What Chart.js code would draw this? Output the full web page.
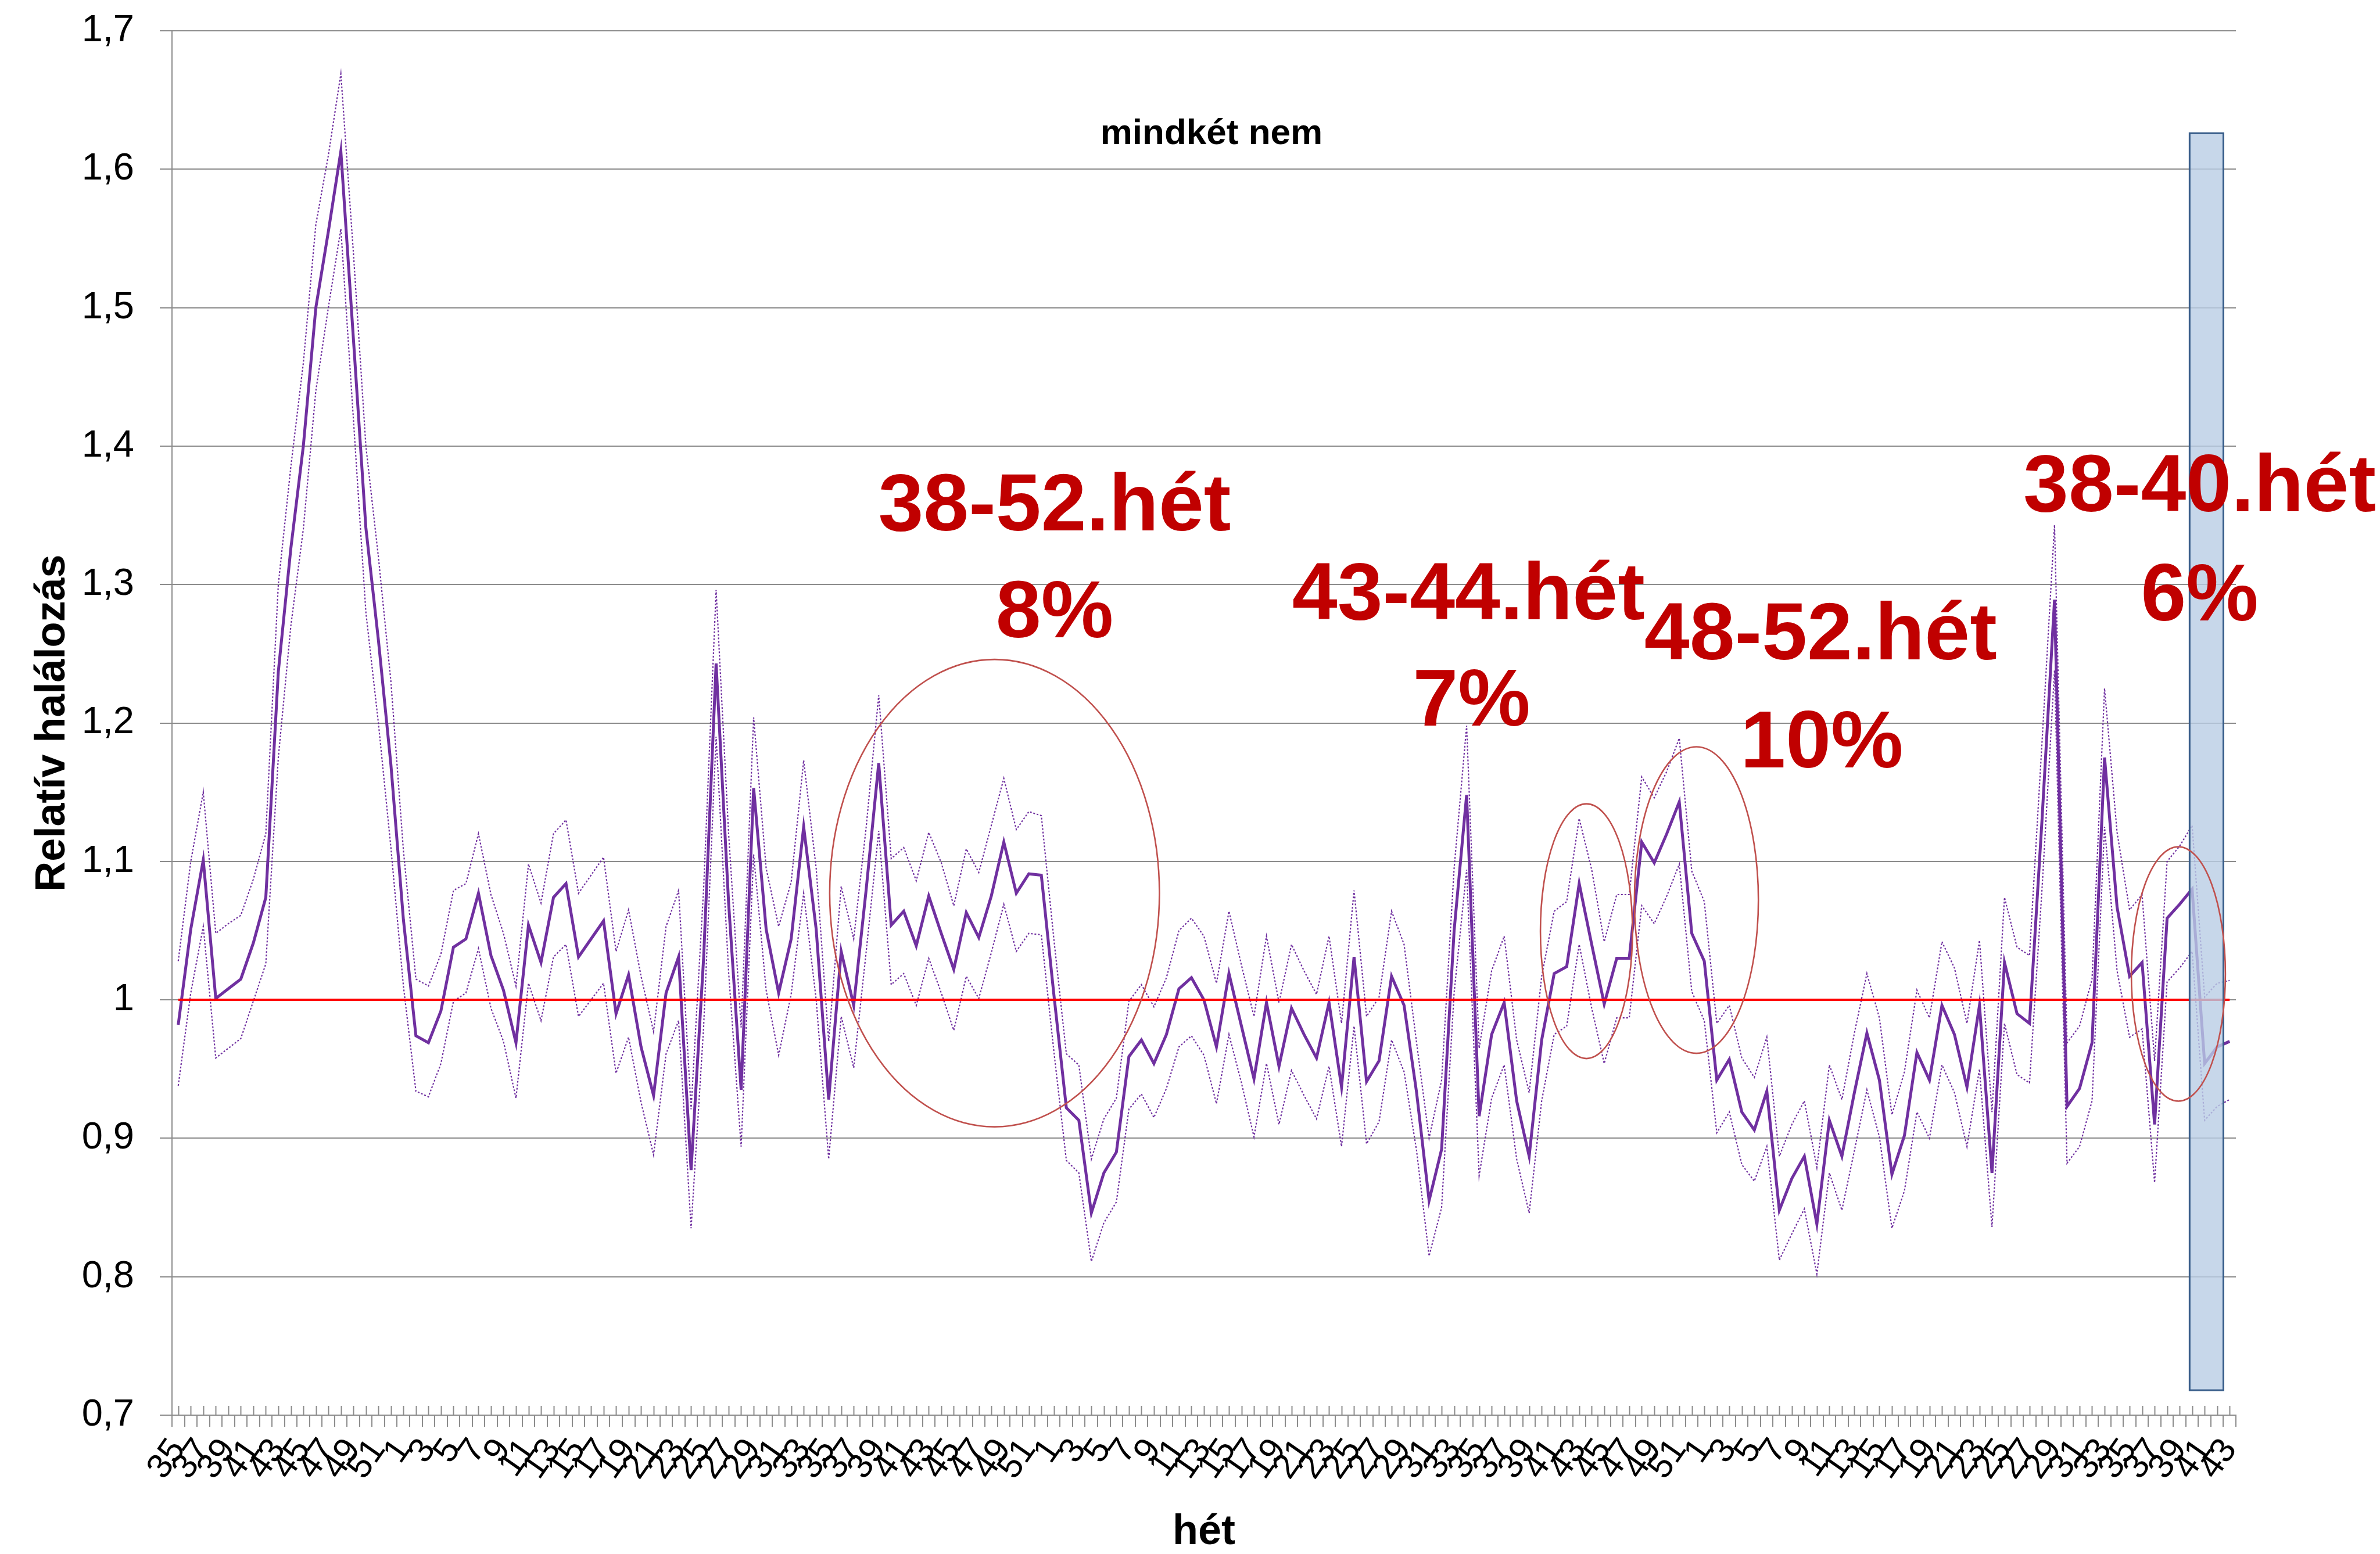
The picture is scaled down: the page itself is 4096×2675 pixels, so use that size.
<!DOCTYPE html>
<html>
<head>
<meta charset="utf-8">
<script src="https://cdn.jsdelivr.net/npm/chart.js@4.4.1/dist/chart.umd.min.js"></script>
<style>
  html, body { margin: 0; padding: 0; background: #fff; }
  #wrap { width: 4096px; height: 2675px; position: relative; }
</style>
</head>
<body>
<div id="wrap"><canvas id="chart"></canvas></div>
<script>
// week numbers on the category axis (35. hét -> 43. hét, three year changes)
const weekLabels = [
  35,36,37,38,39,40,41,42,43,44,45,46,47,48,49,50,51,52,
  1,2,3,4,5,6,7,8,9,10,11,12,13,14,15,16,17,18,19,20,21,22,23,24,25,26,
  27,28,29,30,31,32,33,34,35,36,37,38,39,40,41,42,43,44,45,46,47,48,49,50,51,52,
  1,2,3,4,5,6,7,8,9,10,11,12,13,14,15,16,17,18,19,20,21,22,23,24,25,26,
  27,28,29,30,31,32,33,34,35,36,37,38,39,40,41,42,43,44,45,46,47,48,49,50,51,52,
  1,2,3,4,5,6,7,8,9,10,11,12,13,14,15,16,17,18,19,20,21,22,
  23,24,25,26,27,28,29,30,31,32,33,34,35,36,37,38,39,40,41,42,43
];

// relative mortality (main series)
const relMortality = [
  0.982,1.051,1.101,1.001,1.008,1.015,1.041,1.074,1.237,1.326,
  1.400,1.500,1.555,1.613,1.478,1.341,1.260,1.170,1.058,0.974,
  0.969,0.992,1.038,1.044,1.077,1.032,1.007,0.969,1.054,1.027,
  1.074,1.084,1.031,1.044,1.057,0.990,1.018,0.966,0.931,1.005,
  1.031,0.877,1.030,1.243,1.070,0.935,1.153,1.051,1.005,1.044,
  1.125,1.051,0.928,1.035,0.996,1.080,1.171,1.054,1.064,1.039,
  1.075,1.048,1.022,1.063,1.045,1.075,1.114,1.077,1.091,1.090,
  1.004,0.922,0.913,0.846,0.875,0.890,0.959,0.971,0.954,0.975,
  1.008,1.016,1.000,0.966,1.019,0.981,0.943,0.998,0.952,0.994,
  0.975,0.958,0.998,0.937,1.031,0.941,0.956,1.017,0.996,0.933,
  0.855,0.892,1.050,1.148,0.916,0.975,0.998,0.927,0.887,0.971,
  1.019,1.024,1.084,1.040,0.997,1.030,1.030,1.114,1.099,1.120,
  1.143,1.048,1.028,0.942,0.957,0.919,0.906,0.934,0.848,0.871,
  0.887,0.838,0.913,0.887,0.933,0.976,0.942,0.874,0.902,0.962,
  0.942,0.996,0.975,0.937,0.996,0.875,1.027,0.990,0.983,1.130,
  1.289,0.923,0.936,0.969,1.175,1.067,1.017,1.027,0.910,1.059,
  1.069,1.080,0.954,0.966,0.970
];

// upper confidence bound (dotted)
const upperBound = [
  1.028,1.100,1.150,1.048,1.055,1.061,1.087,1.120,1.300,1.385,
  1.460,1.560,1.610,1.669,1.540,1.400,1.320,1.230,1.108,1.015,
  1.010,1.033,1.079,1.084,1.120,1.076,1.048,1.010,1.098,1.070,
  1.120,1.130,1.077,1.090,1.103,1.035,1.065,1.017,0.977,1.053,
  1.079,0.921,1.080,1.296,1.120,0.980,1.204,1.095,1.053,1.085,
  1.173,1.095,0.970,1.082,1.044,1.125,1.220,1.102,1.110,1.086,
  1.121,1.099,1.068,1.109,1.092,1.126,1.160,1.123,1.136,1.133,
  1.044,0.961,0.953,0.885,0.914,0.929,0.999,1.011,0.995,1.016,
  1.050,1.059,1.046,1.012,1.064,1.025,0.988,1.046,0.998,1.040,
  1.021,1.004,1.046,0.983,1.079,0.988,1.002,1.064,1.040,0.969,
  0.900,0.942,1.095,1.198,0.965,1.021,1.046,0.971,0.933,1.017,
  1.064,1.071,1.131,1.094,1.042,1.076,1.076,1.161,1.146,1.165,
  1.189,1.093,1.071,0.983,0.996,0.958,0.944,0.973,0.887,0.910,
  0.927,0.879,0.953,0.928,0.976,1.019,0.987,0.917,0.948,1.007,
  0.987,1.042,1.023,0.983,1.043,0.919,1.074,1.038,1.032,1.186,
  1.343,0.969,0.981,1.015,1.225,1.121,1.065,1.076,0.956,1.100,
  1.111,1.126,1.002,1.012,1.014
];

// lower confidence bound (dotted)
const lowerBound = [
  0.938,1.005,1.053,0.958,0.965,0.972,0.999,1.026,1.175,1.270,
  1.340,1.440,1.500,1.557,1.420,1.280,1.200,1.110,1.010,0.934,
  0.930,0.954,0.999,1.005,1.037,0.994,0.970,0.929,1.012,0.985,
  1.031,1.040,0.988,1.000,1.012,0.947,0.973,0.926,0.888,0.961,
  0.985,0.835,0.980,1.190,1.020,0.894,1.105,1.007,0.960,1.004,
  1.077,1.000,0.885,0.988,0.951,1.035,1.122,1.011,1.019,0.996,
  1.030,1.005,0.978,1.017,1.001,1.034,1.069,1.035,1.048,1.047,
  0.963,0.884,0.875,0.811,0.839,0.854,0.921,0.932,0.915,0.936,
  0.966,0.974,0.960,0.925,0.975,0.940,0.901,0.954,0.910,0.949,
  0.931,0.914,0.952,0.894,0.981,0.896,0.912,0.971,0.948,0.891,
  0.815,0.850,1.005,1.094,0.873,0.929,0.953,0.885,0.846,0.927,
  0.975,0.981,1.040,0.994,0.954,0.987,0.987,1.068,1.055,1.075,
  1.098,1.006,0.985,0.904,0.919,0.881,0.869,0.894,0.812,0.831,
  0.849,0.802,0.875,0.848,0.891,0.935,0.901,0.835,0.862,0.919,
  0.900,0.953,0.933,0.894,0.950,0.836,0.983,0.946,0.940,1.080,
  1.238,0.882,0.894,0.927,1.125,1.021,0.973,0.979,0.868,1.013,
  1.023,1.035,0.913,0.923,0.928
];

const baseline = 1;

// annotations, in data units (category index, value)
const notes = [
  { text: '38-52.hét', x: 70.06, y: 1.339 },
  { text: '8%',        x: 70.06, y: 1.262 },
  { text: '43-44.hét', x: 103.15, y: 1.275 },
  { text: '7%',        x: 103.4, y: 1.198 },
  { text: '48-52.hét', x: 131.3, y: 1.246 },
  { text: '10%',       x: 131.4, y: 1.168 },
  { text: '38-40.hét', x: 161.6, y: 1.353 },
  { text: '6%',        x: 161.6, y: 1.274 }
];
const ellipses = [
  { x: 65.26, y: 1.0771, rx: 13.18, ry: 0.1688 },
  { x: 112.58, y: 1.0496, rx: 3.68, ry: 0.092 },
  { x: 121.37, y: 1.0721, rx: 4.955, ry: 0.1107 },
  { x: 159.9, y: 1.0187, rx: 3.76, ry: 0.0919 }
];
const highlight = { x0: 160.8, x1: 163.5, y0: 0.718, y1: 1.626 };

const FONT = "'Liberation Sans', Arial, sans-serif";

const decorations = {
  id: 'decorations',
  afterDatasetsDraw(chart) {
    const ctx = chart.ctx;
    const xs = chart.scales.x, ys = chart.scales.y;
    const area = chart.chartArea;
    ctx.save();

    // small marks at the category centres, above the axis
    ctx.strokeStyle = '#8c8c8c';
    ctx.lineWidth = 2;
    ctx.beginPath();
    for (let i = 0; i < weekLabels.length; i++) {
      const px = Math.round(xs.getPixelForValue(i)) + 0.5;
      ctx.moveTo(px, area.bottom);
      ctx.lineTo(px, area.bottom - 16);
    }
    ctx.stroke();

    // red reference line at 1
    ctx.strokeStyle = '#ff0000';
    ctx.lineWidth = 4;
    ctx.beginPath();
    ctx.moveTo(xs.getPixelForValue(0), ys.getPixelForValue(baseline));
    ctx.lineTo(xs.getPixelForValue(weekLabels.length - 1), ys.getPixelForValue(baseline));
    ctx.stroke();

    // blue highlight box
    const bx0 = xs.getPixelForValue(highlight.x0), bx1 = xs.getPixelForValue(highlight.x1);
    const by0 = ys.getPixelForValue(highlight.y1), by1 = ys.getPixelForValue(highlight.y0);
    ctx.fillStyle = 'rgba(185, 205, 229, 0.8)';
    ctx.fillRect(bx0, by0, bx1 - bx0, by1 - by0);
    ctx.strokeStyle = '#385d8a';
    ctx.lineWidth = 3;
    ctx.strokeRect(bx0, by0, bx1 - bx0, by1 - by0);

    // ellipses
    ctx.strokeStyle = '#c0504d';
    ctx.lineWidth = 2.6;
    ellipses.forEach(e => {
      const cx = xs.getPixelForValue(e.x), cy = ys.getPixelForValue(e.y);
      const rx = xs.getPixelForValue(e.x + e.rx) - cx;
      const ry = cy - ys.getPixelForValue(e.y + e.ry);
      ctx.beginPath();
      ctx.ellipse(cx, cy, rx, ry, 0, 0, Math.PI * 2);
      ctx.stroke();
    });

    // chart title
    ctx.fillStyle = '#000';
    ctx.font = 'bold 62px ' + FONT;
    ctx.textAlign = 'center';
    ctx.textBaseline = 'alphabetic';
    ctx.fillText('mindkét nem', xs.getPixelForValue(82.6), ys.getPixelForValue(1.618));

    // red annotations
    ctx.fillStyle = '#c00000';
    ctx.font = 'bold 140px ' + FONT;
    notes.forEach(n => {
      ctx.fillText(n.text, xs.getPixelForValue(n.x), ys.getPixelForValue(n.y));
    });
    ctx.restore();
  }
};

new Chart(document.getElementById('chart'), {
  type: 'line',
  data: {
    labels: weekLabels,
    datasets: [
      {
        data: relMortality,
        borderColor: '#7030a0',
        borderWidth: 5,
        pointRadius: 0,
        tension: 0,
        fill: false
      },
      {
        data: upperBound,
        borderColor: '#7030a0',
        borderWidth: 2.2,
        borderDash: [3, 3],
        pointRadius: 0,
        tension: 0,
        fill: false
      },
      {
        data: lowerBound,
        borderColor: '#7030a0',
        borderWidth: 2.2,
        borderDash: [3, 3],
        pointRadius: 0,
        tension: 0,
        fill: false
      }
    ]
  },
  options: {
    responsive: true,
    maintainAspectRatio: false,
    animation: false,
    devicePixelRatio: 1,
    layout: { padding: { top: 53, right: 248, bottom: 0, left: 0 } },
    plugins: {
      legend: { display: false },
      tooltip: { enabled: false }
    },
    scales: {
      x: {
        offset: true,
        grid: {
          offset: true,
          drawOnChartArea: false,
          drawTicks: true,
          tickLength: 20,
          color: '#8c8c8c',
          lineWidth: 2
        },
        border: { color: '#8c8c8c', width: 2 },
        ticks: {
          autoSkip: false,
          minRotation: 55,
          maxRotation: 55,
          padding: 8,
          color: '#000',
          font: { family: FONT, size: 60 },
          callback: (v, i) => (i % 2 === 0 ? String(weekLabels[i]) : '')
        },
        title: {
          display: true,
          text: 'hét',
          color: '#000',
          font: { family: FONT, size: 72, weight: 'bold', lineHeight: 1 },
          padding: { top: 0, bottom: 1 }
        },
        afterFit: (s) => { s.height = 239; }
      },
      y: {
        min: 0.7,
        max: 1.7,
        grid: { color: '#8c8c8c', lineWidth: 2, tickLength: 21 },
        border: { color: '#8c8c8c', width: 2 },
        ticks: {
          stepSize: 0.1,
          padding: 44,
          color: '#000',
          font: { family: FONT, size: 65 },
          callback: (v) => String(Math.round(v * 10) / 10).replace('.', ',')
        },
        title: {
          display: true,
          text: 'Relatív halálozás',
          color: '#000',
          font: { family: FONT, size: 72, weight: 'bold', lineHeight: 1 },
          padding: { top: 55, bottom: 0 }
        },
        afterFit: (s) => {
          s.width = 296;
          s.paddingTop = 0;
          s.paddingBottom = 0;
        }
      }
    }
  },
  plugins: [decorations]
});
</script>
</body>
</html>
